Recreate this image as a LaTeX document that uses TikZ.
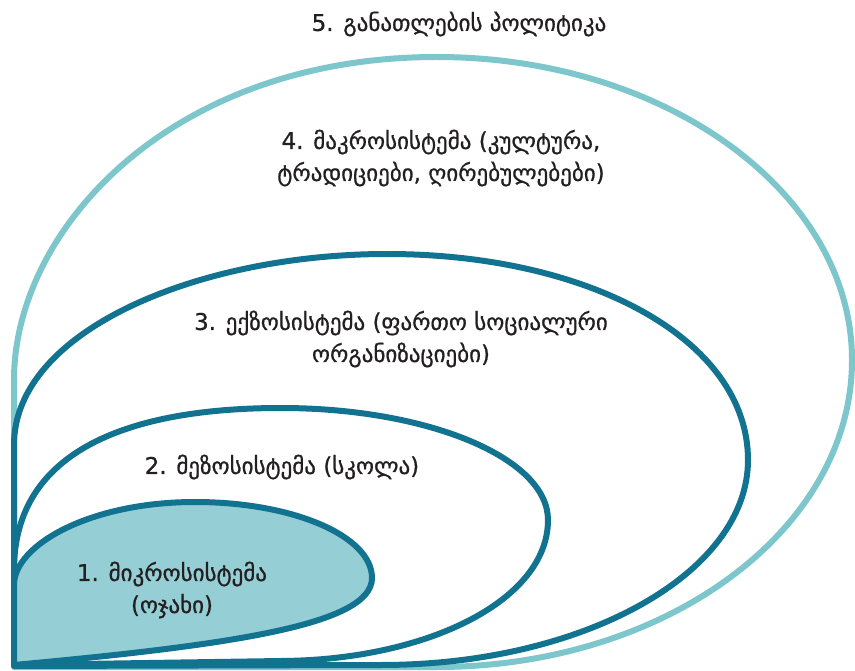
\documentclass[tikz,border=0pt]{standalone}
\usepackage{fontspec}
\newfontfamily\geofont[FakeBold=0.8]{DejaVu Sans}
\definecolor{lightteal}{HTML}{7DC6CC}
\definecolor{darkteal}{HTML}{127391}
\definecolor{fillteal}{HTML}{96CED6}
\definecolor{ink}{HTML}{231F20}
\tikzset{
  levelline/.style={line width=6pt, line join=round, line cap=round},
  outerlevel/.style={levelline, draw=lightteal},
  innerlevel/.style={levelline, draw=darkteal},
  levellabel/.style={text=ink, align=center, inner sep=0pt,
    font=\geofont\fontsize{23}{32}\selectfont},
}
\begin{document}
\begin{tikzpicture}[x=1pt, y=-1pt]
\useasboundingbox (0,0) rectangle (855,671);

% 5/4: outermost level
\draw[outerlevel] (14,667) -- (14,380)
  .. controls (14,230) and (170,57) .. (437,57)
  .. controls (666,57) and (852,193) .. (852,360)
  .. controls (852,530) and (666,667) .. (437,667) -- cycle;

% 3: exosystem
\draw[innerlevel] (14,666) -- (14,445)
  .. controls (14,330) and (200,254) .. (387,254)
  .. controls (590,254) and (748,340) .. (748,460)
  .. controls (748,573) and (584,665) .. (381,665) -- cycle;

% 2: mesosystem
\draw[innerlevel] (14,665) -- (14,570)
  .. controls (14,450) and (130,408) .. (281,408)
  .. controls (428,408) and (548,458) .. (548,520)
  .. controls (548,600) and (428,660) .. (281,661) -- cycle;

% 1: microsystem
\draw[innerlevel, fill=fillteal] (14,665) -- (14,585)
  .. controls (14,545) and (90,502) .. (195,502)
  .. controls (293,502) and (372,536) .. (372,578)
  .. controls (372,625) and (230,645) .. (14,665) -- cycle;

\node[levellabel] (policy) at (459,24) {5. განათლების პოლიტიკა};
\node[levellabel] (macro) at (441,158) {4. მაკროსისტემა (კულტურა,\\ტრადიციები, ღირებულებები)};
\node[levellabel] (exo) at (401,339) {3. ექზოსისტემა (ფართო სოციალური\\ორგანიზაციები)};
\node[levellabel] (meso) at (282,467) {2. მეზოსისტემა (სკოლა)};
\node[levellabel] (micro) at (172,590) {1. მიკროსისტემა\\(ოჯახი)};
\end{tikzpicture}
\end{document}
